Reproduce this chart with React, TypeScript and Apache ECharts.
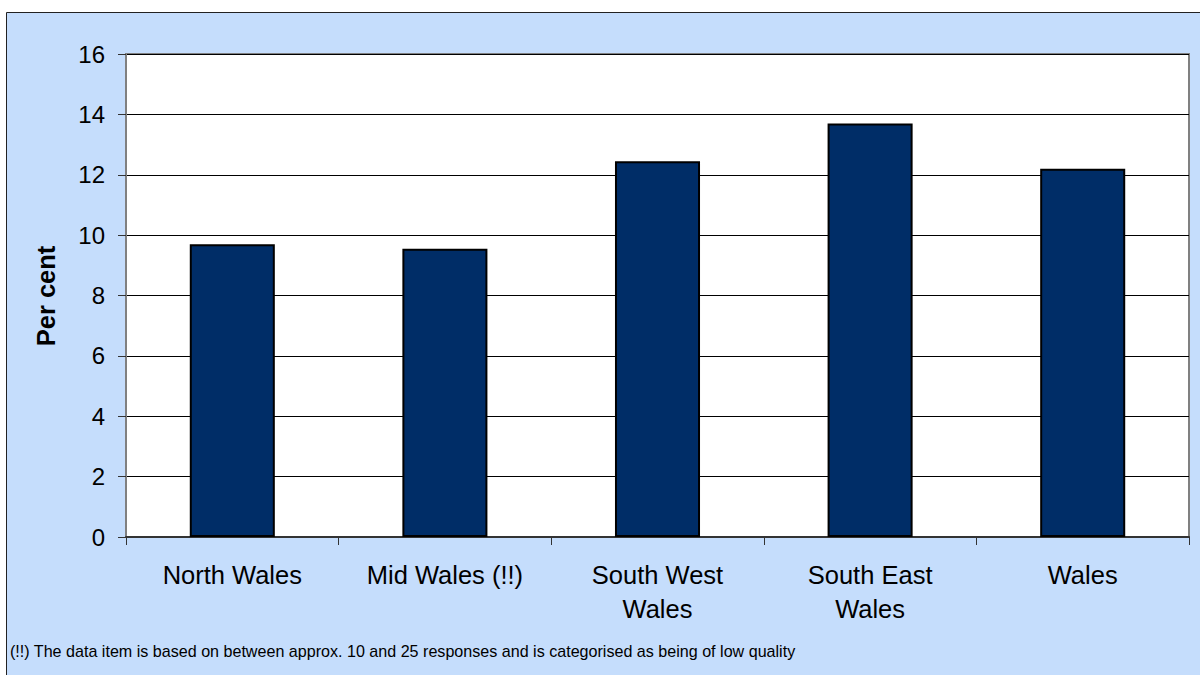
import React, { useEffect, useRef } from "react";
import * as echarts from "echarts";

const categories = ["North Wales", "Mid Wales (!!)", "South West\nWales", "South East\nWales", "Wales"];
const values = [9.7, 9.55, 12.45, 13.7, 12.2];
const yTicks = { min: 0, max: 16, interval: 2 };
const yAxisTitle = "Per cent";
const footnote = "(!!) The data item is based on between approx. 10 and 25 responses and is categorised as being of low quality";

const FONT = "'Liberation Sans', Arial, Helvetica, sans-serif";

export default function App() {
  const ref = useRef<HTMLDivElement>(null);
  useEffect(() => {
    if (!ref.current) return;
    const chart = echarts.init(ref.current, undefined, { renderer: "svg" });
    chart.setOption({
      animation: false,
      backgroundColor: "#ffffff",
      textStyle: { fontFamily: FONT },
      graphic: [
        {
          type: "rect",
          z: -100,
          silent: true,
          shape: { x: 6.5, y: 12.5, width: 1220, height: 700 },
          style: { fill: "#C5DDFC", stroke: "#222222", lineWidth: 1 },
        },
        {
          type: "text",
          x: 46,
          y: 296,
          rotation: Math.PI / 2,
          style: {
            text: yAxisTitle,
            fontFamily: FONT,
            fontSize: 25.5,
            fontWeight: "bold",
            fill: "#000",
            align: "center",
            verticalAlign: "middle",
          },
        },
        {
          type: "text",
          x: 10,
          y: 651,
          style: {
            text: footnote,
            fontFamily: FONT,
            fontSize: 16.1,
            fill: "#000",
            align: "left",
            verticalAlign: "middle",
          },
        },
      ],
      grid: {
        left: 126,
        top: 54,
        right: 11,
        bottom: 138,
        show: true,
        backgroundColor: "#ffffff",
        borderColor: "#808080",
        borderWidth: 2,
      },
      xAxis: {
        type: "category",
        data: categories,
        axisLine: { show: true, lineStyle: { color: "#333", width: 2 } },
        axisTick: { show: true, length: 8, lineStyle: { color: "#333", width: 1 } },
        axisLabel: {
          interval: 0,
          fontSize: 25.5,
          lineHeight: 34,
          margin: 21,
          color: "#000",
          fontFamily: FONT,
        },
      },
      yAxis: {
        type: "value",
        min: yTicks.min,
        max: yTicks.max,
        interval: yTicks.interval,
        axisLine: { show: true, lineStyle: { color: "#808080", width: 2 } },
        axisTick: { show: true, length: 8, lineStyle: { color: "#333", width: 1 } },
        axisLabel: { fontSize: 24, margin: 21, color: "#000", fontFamily: FONT },
        splitLine: { show: true, lineStyle: { color: "#000", width: 1 } },
      },
      series: [
        {
          type: "bar",
          data: values,
          barCategoryGap: "60%",
          itemStyle: { color: "#002D67", borderColor: "#000", borderWidth: 2 },
        },
      ],
    });
    return () => chart.dispose();
  }, []);
  return (
    <div
      ref={ref}
      style={{ position: "absolute", left: 0, top: 0, width: 1200, height: 675 }}
    />
  );
}
